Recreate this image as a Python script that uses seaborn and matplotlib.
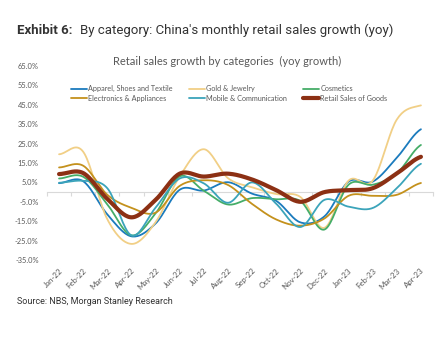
import numpy as np
import pandas as pd
import matplotlib
matplotlib.use("Agg")
import matplotlib.pyplot as plt
import seaborn as sns

months = ["Jan-22", "Feb-22", "Mar-22", "Apr-22", "May-22", "Jun-22", "Jul-22", "Aug-22",
          "Sep-22", "Oct-22", "Nov-22", "Dec-22", "Jan-23", "Feb-23", "Mar-23", "Apr-23"]

apparel = [4.6, 5.6, -11.5, -22.8, -16.2, 1.2, 0.8, 5.1, -0.8, -4.5, -15.6, -12.5, 5.4, 5.4, 17.7, 32.4]
gold = [19.5, 20.8, -14.0, -26.7, -15.5, 8.1, 22.1, 7.2, 2.5, -1.0, -2.5, -18.4, 5.9, 5.9, 37.4, 44.7]
cosmetics = [7.0, 7.9, -6.3, -22.3, -11.0, 8.1, 0.7, -6.4, -3.1, -3.7, -4.6, -19.3, 3.8, 3.8, 9.6, 24.3]
electronics = [12.7, 13.6, -1.4, -8.1, -10.6, 3.2, 6.1, 3.7, -6.1, -14.1, -17.3, -13.6, -1.9, -1.9, -1.4, 4.7]
mobile = [4.8, 5.8, 2.0, -22.3, -8.0, 7.0, 4.5, -5.5, 5.0, -6.0, -18.0, -4.0, -7.5, -8.2, 2.0, 14.6]
retail = [9.3, 9.8, -3.5, -13.0, -4.0, 9.5, 8.0, 9.5, 6.5, 1.0, -5.0, 0.0, 1.0, 2.0, 9.6, 18.2]

series_names = ["Apparel, Shoes and Textile", "Gold & Jewelry", "Cosmetics",
                "Electronics & Appliances", "Mobile & Communication", "Retail Sales of Goods"]
series_vals = [apparel, gold, cosmetics, electronics, mobile, retail]
colors = ["#1b7bbd", "#f1cf86", "#45ad68", "#c4911c", "#3ba4ba", "#8c3014"]
widths = [1.3, 1.3, 1.3, 1.3, 1.3, 3.0]

yticks = [65, 55, 45, 35, 25, 15, 5, -5, -15, -25, -35]


def smooth(vals, n=20):
    # Catmull-Rom (Excel-like smoothed line) through the monthly points
    v = np.asarray(vals, float)
    p = np.concatenate([[v[0]], v, [v[-1]]])
    xs, ys = [], []
    for i in range(len(v) - 1):
        p0, p1, p2, p3 = p[i], p[i + 1], p[i + 2], p[i + 3]
        t = np.linspace(0, 1, n, endpoint=False)
        m1 = (p2 - p0) / 2
        m2 = (p3 - p1) / 2
        h00 = 2 * t**3 - 3 * t**2 + 1
        h10 = t**3 - 2 * t**2 + t
        h01 = -2 * t**3 + 3 * t**2
        h11 = t**3 - t**2
        ys.append(h00 * p1 + h10 * m1 + h01 * p2 + h11 * m2)
        xs.append(i + t)
    xs.append([len(v) - 1])
    ys.append([v[-1]])
    return np.concatenate(xs), np.concatenate(ys)


sns.set_style("white")
plt.rcParams["font.family"] = ["Roboto", "DejaVu Sans"]

fig = plt.figure(figsize=(4.42, 3.48), dpi=100)
ax = fig.add_axes([47 / 442, 1 - 260 / 348, (433 - 47) / 442, (260 - 66) / 348])

for name, vals, c, w in zip(series_names, series_vals, colors, widths):
    sx, sy = smooth(vals)
    df = pd.DataFrame({"x": sx, "y": sy})
    sns.lineplot(data=df, x="x", y="y", ax=ax, color=c, linewidth=w, label=name,
                 solid_capstyle="round")

ax.set_xlim(-0.5, len(months) - 0.5)
ax.set_ylim(-35, 65)
ax.set_yticks(yticks)
ax.set_yticklabels([f"{t:.1f}%" for t in yticks], fontsize=5.4, color="#595959",
                   family=["Lato", "DejaVu Sans"])
ax.set_xticks(range(len(months)))
ax.set_xticklabels(months, rotation=45, ha="right", rotation_mode="anchor",
                   fontsize=5.7, color="#595959", family=["Lato", "DejaVu Sans"])
ax.tick_params(axis="both", length=0)
ax.tick_params(axis="y", pad=6)
ax.tick_params(axis="x", pad=5)
for s in ax.spines.values():
    s.set_visible(False)
ax.set_xlabel("")
ax.set_ylabel("")

# zero axis line with category boundary ticks
sec = ax.secondary_xaxis(0.35)
sec.set_xticks(np.arange(-0.5, len(months), 1.0))
sec.set_xticklabels([])
sec.tick_params(axis="x", length=3, color="#d9d9d9", width=0.8)
sec.spines["bottom"].set_color("#d9d9d9")
sec.spines["bottom"].set_linewidth(0.8)
for k in ["top", "left", "right"]:
    sec.spines[k].set_visible(False)

# legend, row-major order
h, l = ax.get_legend_handles_labels()
order = [0, 3, 1, 4, 2, 5]
leg = ax.legend([h[i] for i in order], [l[i] for i in order], ncol=3,
                loc="upper left", bbox_to_anchor=(0.045, 0.935), frameon=False,
                handlelength=2.3, handletextpad=0.1, columnspacing=2.2,
                labelspacing=0.35, prop={"family": ["Lato", "DejaVu Sans"], "size": 5.2})
for t in leg.get_texts():
    t.set_color("#595959")

fig.text(17 / 442, 1 - 30 / 348, "Exhibit 6:", fontsize=9.5, fontweight="bold",
         color="#333333", va="center", ha="left")
fig.text(80 / 442, 1 - 30 / 348, "By category: China's monthly retail sales growth (yoy)",
         fontsize=9.5, color="#333333", va="center", ha="left")
fig.text(227 / 442, 1 - 61 / 348, "Retail sales growth by categories  (yoy growth)",
         fontsize=8.0, color="#595959", va="center", ha="center",
         family=["Lato", "DejaVu Sans"])
fig.text(17 / 442, 1 - 302 / 348, "Source: NBS, Morgan Stanley Research",
         fontsize=6.5, color="#333333", va="center", ha="left")

fig.savefig("out.png", dpi=100)
